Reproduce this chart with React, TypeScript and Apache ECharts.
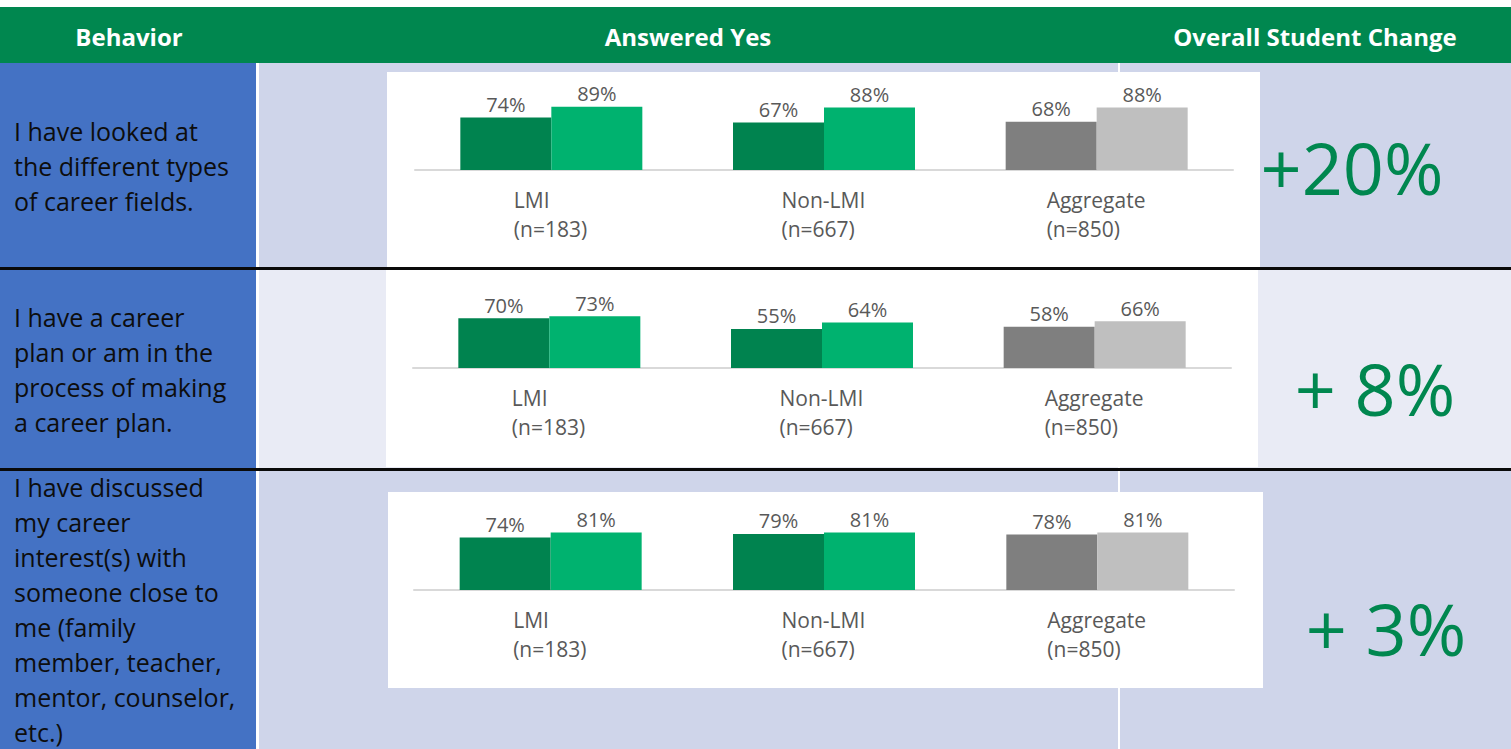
import React, { useEffect, useRef } from "react";
import * as echarts from "echarts";

const headers = ["Behavior", "Answered Yes", "Overall Student Change"];
const categories = ["LMI", "Non-LMI", "Aggregate"];
const sampleSizes = ["(n=183)", "(n=667)", "(n=850)"];

const behaviorLines1 = ["I have looked at", "the different types", "of career fields."];
const behaviorLines2 = ["I have a career", "plan or am in the", "process of making", "a career plan."];
const behaviorLines3 = [
  "I have discussed",
  "my career",
  "interest(s) with",
  "someone close to",
  "me (family",
  "member, teacher,",
  "mentor, counselor,",
  "etc.)",
];

const before1 = [74, 67, 68];
const after1 = [89, 88, 88];
const before2 = [70, 55, 58];
const after2 = [73, 64, 66];
const before3 = [74, 79, 78];
const after3 = [81, 81, 81];

const changes = ["+20%", "+ 8%", "+ 3%"];

const FONT = '"Open Sans", "Noto Sans", sans-serif';
const preColors = ["#00834F", "#00834F", "#7F7F7F"];
const postColors = ["#00B26F", "#00B26F", "#BFBFBF"];
const labelGray = "#595959";
const catFontSize = 21;

function measure(text: string): number {
  const c = document.createElement("canvas");
  const ctx = c.getContext("2d");
  if (!ctx) return text.length * 11;
  ctx.font = `${catFontSize}px "Open Sans"`;
  return ctx.measureText(text).width;
}

export default function App() {
  const ref = useRef<HTMLDivElement>(null);

  useEffect(() => {
    if (!ref.current) return;
    const chart = echarts.init(ref.current, undefined, { renderer: "svg" });

    const rich: Record<string, any> = {};
    categories.forEach((c, j) => {
      const w = Math.ceil(Math.max(measure(c), measure(sampleSizes[j]))) + 1;
      rich["a" + j] = { width: w, align: "left", fontSize: catFontSize, fontFamily: FONT, color: labelGray, lineHeight: 29 };
      rich["b" + j] = { width: w, align: "left", fontSize: catFontSize, fontFamily: FONT, color: labelGray, lineHeight: 29 };
    });

    const grids = [
      { left: 415, top: 99, width: 818, height: 71 },
      { left: 413, top: 297, width: 818, height: 71 },
      { left: 414, top: 519, width: 820, height: 71 },
    ];
    const panels = [
      { pre: before1, post: after1 },
      { pre: before2, post: after2 },
      { pre: before3, post: after3 },
    ];

    const xAxes = grids.map((_, i) => ({
      type: "category",
      gridIndex: i,
      data: categories,
      z: 3,
      axisLine: { show: true, lineStyle: { color: "#D9D9D9", width: 2 } },
      axisTick: { show: false },
      axisLabel: {
        margin: 15,
        interval: 0,
        formatter: (value: string, idx: number) => `{a${idx}|${value}}\n{b${idx}|${sampleSizes[idx]}}`,
        rich,
      },
    }));
    const yAxes = grids.map((_, i) => ({
      type: "value",
      gridIndex: i,
      min: 0,
      max: 100,
      show: false,
      splitLine: { show: false },
    }));

    const labelCfg = {
      show: true,
      position: "top",
      distance: 3,
      formatter: "{c}%",
      color: labelGray,
      fontSize: 20,
      fontFamily: FONT,
    };

    const series: any[] = [];
    panels.forEach((p, i) => {
      series.push({
        type: "bar",
        name: "Pre",
        xAxisIndex: i,
        yAxisIndex: i,
        barWidth: 91,
        barGap: "0%",
        z: 4,
        data: p.pre.map((v, j) => ({ value: v, itemStyle: { color: preColors[j] } })),
        label: labelCfg,
      });
      series.push({
        type: "bar",
        name: "Post",
        xAxisIndex: i,
        yAxisIndex: i,
        barWidth: 91,
        barGap: "0%",
        z: 4,
        data: p.post.map((v, j) => ({ value: v, itemStyle: { color: postColors[j] } })),
        label: labelCfg,
      });
    });

    const rect = (x: number, y: number, w: number, h: number, fill: string, z = 0) => ({
      type: "rect",
      z,
      silent: true,
      shape: { x, y, width: w, height: h },
      style: { fill },
    });

    const textLines = (lines: string[], y: number) => ({
      type: "text",
      z: 1,
      x: 14,
      y,
      style: {
        text: lines.join("\n"),
        fill: "#0D0D0D",
        fontSize: 25,
        fontFamily: FONT,
        lineHeight: 35,
        align: "left",
        verticalAlign: "top",
      },
    });

    const headerText = (t: string, x: number) => ({
      type: "text",
      z: 1,
      x,
      y: 36,
      style: {
        text: t,
        fill: "#FFFFFF",
        fontSize: 24,
        fontWeight: "bold",
        fontFamily: FONT,
        align: "center",
        verticalAlign: "middle",
      },
    });

    const bigText = (t: string, x: number, y: number) => ({
      type: "text",
      z: 1,
      x,
      y,
      style: {
        text: t,
        fill: "#00874F",
        fontSize: 72,
        fontFamily: FONT,
        align: "center",
        verticalAlign: "middle",
      },
    });

    const graphicElements = [
      rect(0, 7, 1511, 56, "#00874F"),
      rect(0, 63, 256, 686, "#4472C4"),
      rect(259, 63, 1252, 205, "#CFD5EA"),
      rect(259, 270, 1252, 198, "#E9EBF5"),
      rect(259, 471, 1252, 278, "#CFD5EA"),
      rect(1118, 63, 2, 686, "#FFFFFF"),
      rect(387, 72, 873, 196, "#FFFFFF"),
      rect(386, 270, 872, 197, "#FFFFFF"),
      rect(388, 492, 875, 196, "#FFFFFF"),
      rect(0, 267, 1511, 3, "#0A0A0A"),
      rect(0, 468, 1511, 3, "#0A0A0A"),
      headerText(headers[0], 129),
      headerText(headers[1], 688),
      headerText(headers[2], 1315),
      textLines(behaviorLines1, 113.5),
      textLines(behaviorLines2, 299.5),
      textLines(behaviorLines3, 469.5),
      bigText(changes[0], 1352, 167),
      bigText(changes[1], 1375, 388),
      bigText(changes[2], 1386, 628),
    ];

    chart.setOption({
      animation: false,
      backgroundColor: "#FFFFFF",
      textStyle: { fontFamily: FONT },
      grid: grids.map((g) => ({ ...g, containLabel: false })),
      xAxis: xAxes,
      yAxis: yAxes,
      series,
      graphic: { elements: graphicElements },
    });

    return () => {
      chart.dispose();
    };
  }, []);

  return (
    <div
      ref={ref}
      style={{ position: "fixed", left: 0, top: 0, width: 1511, height: 749 }}
    />
  );
}
